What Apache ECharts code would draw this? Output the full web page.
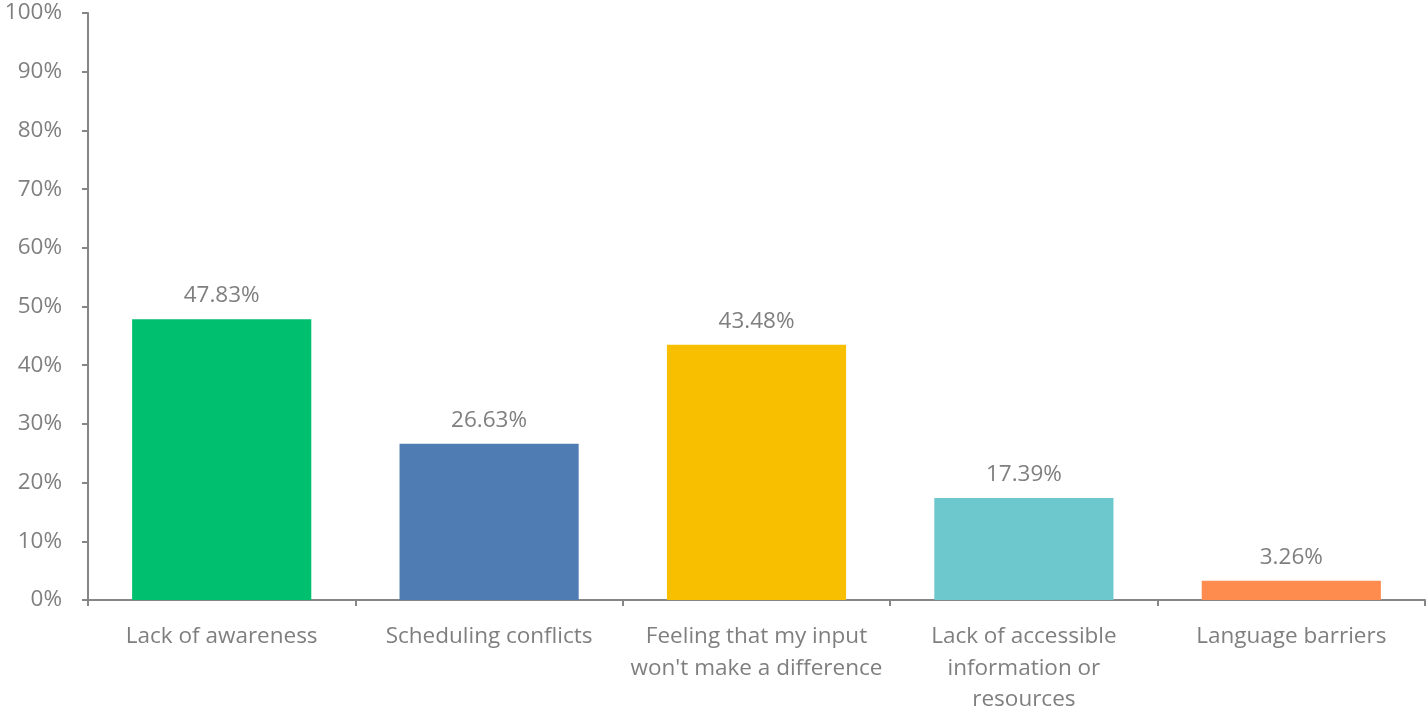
<!DOCTYPE html>
<html>
<head>
<meta charset="utf-8">
<script src="https://cdn.jsdelivr.net/npm/echarts@6/dist/echarts.min.js"></script>
<style>
html,body{margin:0;padding:0;background:#fff;}
#chart{width:1427px;height:710px;}
</style>
</head>
<body>
<div id="chart"></div>
<script>
const categories = [
  "Lack of awareness",
  "Scheduling conflicts",
  "Feeling that my input\nwon't make a difference",
  "Lack of accessible\ninformation or\nresources",
  "Language barriers"
];
const values = [47.83, 26.63, 43.48, 17.39, 3.26];
const barColors = ["#00BF6F", "#507CB4", "#F8BE00", "#6CC8CC", "#FF8C4F"];
const yTicks = [0, 10, 20, 30, 40, 50, 60, 70, 80, 90, 100];

const font = "'Open Sans', 'Noto Sans', sans-serif";
const textColor = "#7F7F7F";
const axisColor = "#868686";

const chart = echarts.init(document.getElementById('chart'), null, {renderer: 'canvas'});
chart.setOption({
  animation: false,
  backgroundColor: '#fff',
  grid: {left: 88, right: 2, top: 13, bottom: 110, containLabel: false, outerBoundsMode: 'none'},
  xAxis: {
    type: 'category',
    data: categories,
    axisLine: {lineStyle: {color: axisColor, width: 2}},
    axisTick: {show: true, alignWithLabel: false, length: 6, lineStyle: {color: axisColor, width: 2}},
    axisLabel: {
      color: textColor, fontFamily: font, fontSize: 22.5, lineHeight: 31.5,
      margin: 21, interval: 0
    }
  },
  yAxis: {
    type: 'value',
    min: yTicks[0], max: yTicks[yTicks.length - 1], interval: 10,
    axisLine: {show: true, lineStyle: {color: axisColor, width: 2}},
    axisTick: {show: true, length: 6, lineStyle: {color: axisColor, width: 2}},
    splitLine: {show: false},
    axisLabel: {
      color: textColor, fontFamily: font, fontSize: 22.5, margin: 26,
      formatter: v => v + '%'
    }
  },
  series: [{
    type: 'bar',
    barWidth: '67%',
    data: values.map((v, i) => ({value: v, itemStyle: {color: barColors[i]}})),
    label: {
      show: true, position: 'top', distance: 12,
      color: textColor, fontFamily: font, fontSize: 22.5,
      formatter: p => p.value.toFixed(2) + '%'
    }
  }]
});
</script>
</body>
</html>
